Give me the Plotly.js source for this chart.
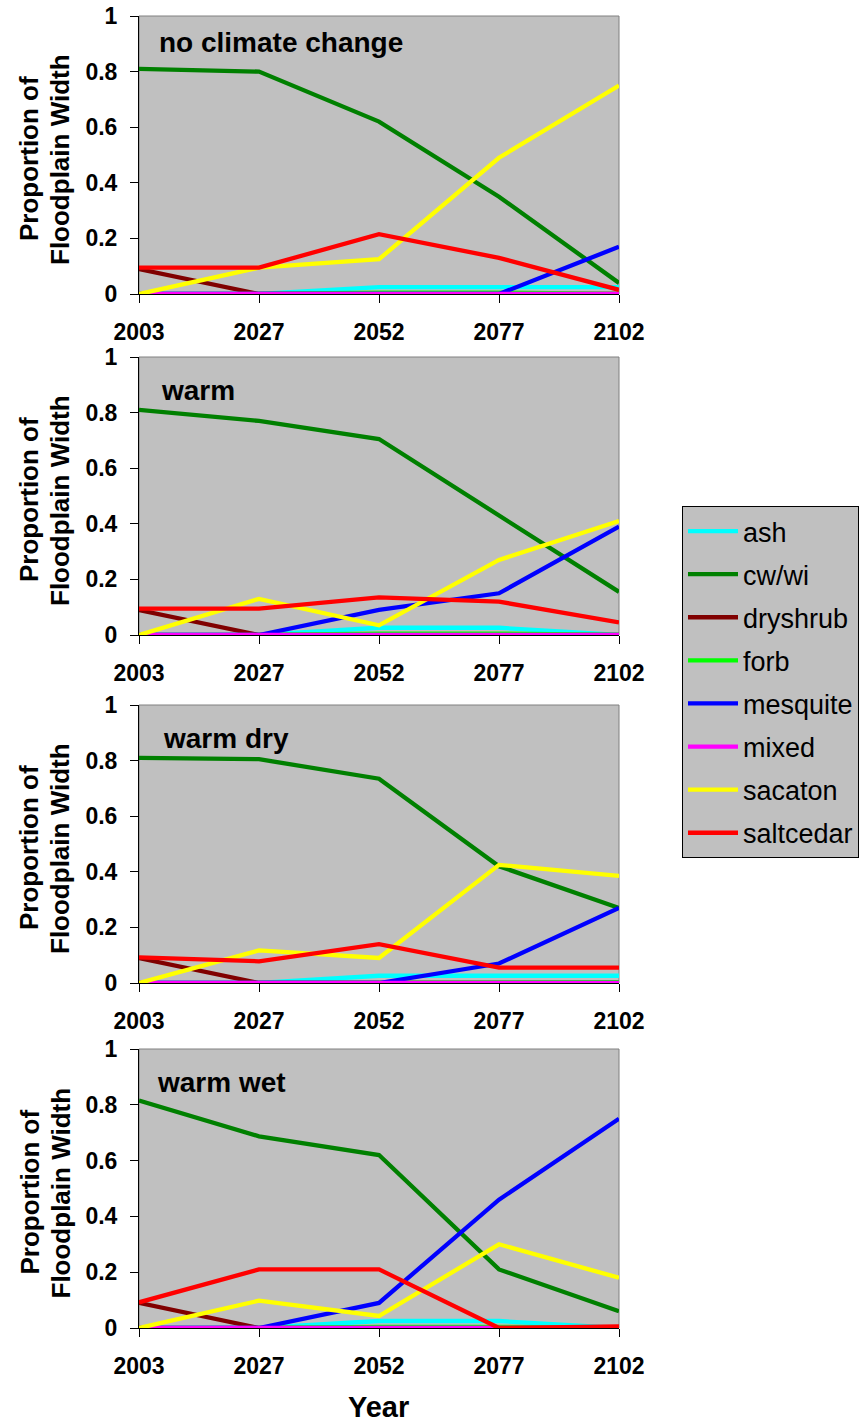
<!DOCTYPE html>
<html>
<head>
<meta charset="utf-8">
<script src="https://cdn.plot.ly/plotly-3.0.1.min.js"></script>
<style>html,body{margin:0;padding:0;background:#fff;}#chart{width:866px;height:1423px;}</style>
</head>
<body>
<div id="chart"></div>
<script>
// ---- data ----
const years = ['2003', '2027', '2052', '2077', '2102'];
const species = ['ash', 'cw/wi', 'dryshrub', 'forb', 'mesquite', 'mixed', 'sacaton', 'saltcedar'];
const speciesColors = ['#00FFFF', '#008000', '#800000', '#00FF00', '#0000FF', '#FF00FF', '#FFFF00', '#FF0000'];
const scenarios = ['no climate change', 'warm', 'warm dry', 'warm wet'];

// no climate change
const none_ash       = [0, 0, 0.025, 0.025, 0.025];
const none_cwwi      = [0.81, 0.80, 0.62, 0.35, 0.04];
const none_dryshrub  = [0.09, 0, 0, 0, 0];
const none_forb      = [0, 0, 0.005, 0.005, 0];
const none_mesquite  = [0, 0, 0, 0, 0.17];
const none_mixed     = [0, 0, 0, 0, 0];
const none_sacaton   = [0, 0.095, 0.125, 0.49, 0.75];
const none_saltcedar = [0.095, 0.095, 0.215, 0.13, 0.015];

// warm
const warm_ash       = [0, 0, 0.026, 0.026, 0];
const warm_cwwi      = [0.81, 0.77, 0.705, 0.43, 0.155];
const warm_dryshrub  = [0.09, 0, 0, 0, 0];
const warm_forb      = [0, 0, 0.005, 0.005, 0];
const warm_mesquite  = [0, 0, 0.09, 0.15, 0.39];
const warm_mixed     = [0, 0, 0, 0, 0];
const warm_sacaton   = [0, 0.13, 0.035, 0.27, 0.41];
const warm_saltcedar = [0.095, 0.095, 0.135, 0.12, 0.045];

// warm dry
const dry_ash       = [0, 0, 0.026, 0.026, 0.026];
const dry_cwwi      = [0.81, 0.805, 0.735, 0.42, 0.27];
const dry_dryshrub  = [0.09, 0, 0, 0, 0];
const dry_forb      = [0, 0, 0.003, 0.003, 0.003];
const dry_mesquite  = [0, 0, 0, 0.07, 0.27];
const dry_mixed     = [0, 0, 0, 0, 0];
const dry_sacaton   = [0, 0.117, 0.09, 0.425, 0.385];
const dry_saltcedar = [0.092, 0.078, 0.14, 0.055, 0.055];

// warm wet
const wet_ash       = [0, 0, 0.025, 0.025, 0];
const wet_cwwi      = [0.815, 0.687, 0.62, 0.21, 0.06];
const wet_dryshrub  = [0.09, 0, 0, 0, 0];
const wet_forb      = [0, 0, 0.004, 0.004, 0];
const wet_mesquite  = [0, 0, 0.09, 0.46, 0.75];
const wet_mixed     = [0, 0, 0, 0, 0];
const wet_sacaton   = [0, 0.098, 0.043, 0.30, 0.18];
const wet_saltcedar = [0.092, 0.21, 0.21, 0, 0.006];

const scenarioSeries = [
  [none_ash, none_cwwi, none_dryshrub, none_forb, none_mesquite, none_mixed, none_sacaton, none_saltcedar],
  [warm_ash, warm_cwwi, warm_dryshrub, warm_forb, warm_mesquite, warm_mixed, warm_sacaton, warm_saltcedar],
  [dry_ash, dry_cwwi, dry_dryshrub, dry_forb, dry_mesquite, dry_mixed, dry_sacaton, dry_saltcedar],
  [wet_ash, wet_cwwi, wet_dryshrub, wet_forb, wet_mesquite, wet_mixed, wet_sacaton, wet_saltcedar]
];

// ---- layout geometry (pixels) ----
const W = 866, H = 1423;
const plotLeft = 139, plotRight = 619;
const panelTops = [16, 357, 705, 1049];
const panelBottoms = [294, 635, 983, 1328];
const labelPos = [[157, 43], [159, 390], [161, 738], [155, 1082]];
const FONT = 'Liberation Sans, Arial, sans-serif';

const px = x => x / W;
const py = y => 1 - y / H;

const traces = [];
const layout = {
  width: W, height: H,
  margin: {l: 0, r: 0, t: 0, b: 0},
  paper_bgcolor: '#FFFFFF',
  plot_bgcolor: '#C0C0C0',
  font: {family: FONT, color: '#000'},
  showlegend: true,
  legend: {
    x: px(682), y: py(506), xanchor: 'left', yanchor: 'top',
    bgcolor: '#C0C0C0', bordercolor: '#000', borderwidth: 1,
    font: {family: FONT, size: 27, color: '#000'},
    traceorder: 'grouped', tracegroupgap: 5,
    itemwidth: 50
  },
  annotations: [],
  shapes: []
};

scenarios.forEach((sc, p) => {
  const suf = p === 0 ? '' : String(p + 1);
  const xa = 'x' + suf, ya = 'y' + suf;
  species.forEach((sp, i) => {
    traces.push({
      type: 'scatter', mode: 'lines',
      x: years, y: scenarioSeries[p][i],
      name: sp, legendgroup: sp, showlegend: p === 0,
      line: {color: speciesColors[i], width: 4.3},
      cliponaxis: false,
      xaxis: xa, yaxis: ya,
      hovertemplate: sc + '<br>' + sp + ': %{y:.3f}<extra>%{x}</extra>'
    });
  });
  layout['xaxis' + suf] = {
    domain: [px(plotLeft), px(plotRight)],
    anchor: ya,
    type: 'category',
    range: [0, years.length - 1],
    showgrid: false, zeroline: false,
    showline: true, linecolor: '#000', linewidth: 1,
    layer: 'below traces',
    ticks: 'outside', ticklen: 8, tickcolor: '#000',
    ticklabelstandoff: 9,
    tickfont: {family: FONT, size: 23, color: '#000', weight: 'bold'},
    fixedrange: true
  };
  layout['yaxis' + suf] = {
    domain: [py(panelBottoms[p]), py(panelTops[p])],
    anchor: xa,
    range: [0, 1], dtick: 0.2,
    showgrid: false, zeroline: false,
    showline: true, linecolor: '#000', linewidth: 1,
    layer: 'below traces',
    ticks: 'outside', ticklen: 8, tickcolor: '#000',
    ticklabelstandoff: 8,
    tickfont: {family: FONT, size: 23, color: '#000', weight: 'bold'},
    fixedrange: true
  };
  // gray plot-area frame (top/right)
  layout.shapes.push({
    type: 'rect', xref: xa + ' domain', yref: ya + ' domain',
    x0: 0, x1: 1, y0: 0, y1: 1,
    line: {color: '#808080', width: 1}, layer: 'below'
  });
  // scenario label
  layout.annotations.push({
    text: '<b>' + sc + '</b>', showarrow: false,
    xref: 'paper', yref: 'paper',
    x: px(labelPos[p][0]), y: py(labelPos[p][1]),
    xanchor: 'left', yanchor: 'middle',
    font: {family: FONT, size: 28, color: '#000'}
  });
  // y-axis title (two lines)
  const cy = py((panelTops[p] + panelBottoms[p]) / 2 + 4);
  layout.annotations.push({
    text: '<b>Proportion of</b>', showarrow: false, textangle: -90,
    xref: 'paper', yref: 'paper', x: px(29), y: cy,
    xanchor: 'center', yanchor: 'middle',
    font: {family: FONT, size: 26, color: '#000'}
  });
  layout.annotations.push({
    text: '<b>Floodplain Width</b>', showarrow: false, textangle: -90,
    xref: 'paper', yref: 'paper', x: px(60), y: cy,
    xanchor: 'center', yanchor: 'middle',
    font: {family: FONT, size: 26, color: '#000'}
  });
});

// x-axis title
layout.annotations.push({
  text: '<b>Year</b>', showarrow: false,
  xref: 'paper', yref: 'paper', x: px(378), y: py(1407),
  xanchor: 'center', yanchor: 'middle',
  font: {family: FONT, size: 29, color: '#000'}
});

Plotly.newPlot('chart', traces, layout, {displayModeBar: false, responsive: false});
</script>
</body>
</html>
